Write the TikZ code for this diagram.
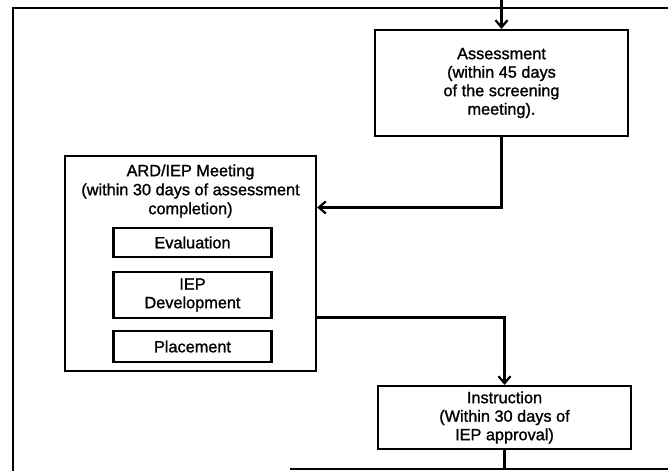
\documentclass[tikz,border=0pt]{standalone}
\usepackage{fontspec}
\setmainfont{Liberation Sans}[FakeBold=1.2]
\usetikzlibrary{positioning, calc, arrows.meta}

\begin{document}
\begin{tikzpicture}[
    x=1pt, y=-1pt,
    stage/.style={
        rectangle,
        draw=black,
        line width=2.2pt,
        fill=white,
        align=center,
        inner sep=0pt,
        minimum width=#1,
        font=\fontsize{16.3}{18.5}\selectfont
    },
    caption/.style={
        align=center,
        inner sep=0pt,
        font=\fontsize{16.3}{19}\selectfont
    },
    arrow/.style={
        -{Straight Barb[length=7pt, width=12pt]},
        line width=2.2pt,
        black
    },
    frame/.style={
        line width=2.4pt,
        black
    }
]
\useasboundingbox (0,0) rectangle (668,471);

% Frame lines around the stages
\coordinate (ftopright) at (668,8);
\coordinate (ftopleft) at (13,8);
\coordinate (fbotleft) at (13,471);
\coordinate (bstart) at (290,469);
\coordinate (bend) at (668,469);
\draw[frame] (ftopright) -- (ftopleft) -- (fbotleft);
\draw[frame] (bstart) -- (bend);

% Assessment
\node[stage=253pt, minimum height=106pt] (assess) at (501.5,83) {
    Assessment \\
    (within 45 days \\
    of the screening \\
    meeting).
};

% ARD/IEP meeting with its three parts
\node[stage=251pt, minimum height=215pt] (ard) at (190.5,263.5) {};
\node[caption] (ardtitle) at (190.5,191) {
    ARD/IEP Meeting \\
    (within 30 days of assessment \\
    completion)
};
\node[stage=158pt, minimum height=29pt] (eval) at (192.5,242.5) {Evaluation};
\node[stage=158pt, minimum height=46pt] (iepdev) at (192.5,295) {IEP \\ Development};
\node[stage=158pt, minimum height=31pt] (place) at (192.5,346.5) {Placement};

% Instruction
\node[stage=253pt, minimum height=63pt] (instr) at (504.5,417.5) {
    Instruction \\
    (Within 30 days of \\
    IEP approval)
};

% Connectors
\coordinate (entry) at (501.5,0);
\draw[arrow] (entry) -- (assess.north);
\draw[arrow] (assess.south) |- ($(ard.north east)!0.242!(ard.south east)$);
\draw[arrow] ($(ard.north east)!0.749!(ard.south east)$) -| (instr.north);
\draw[frame] (instr.south) -- (instr.south |- bend);

\end{tikzpicture}
\end{document}
